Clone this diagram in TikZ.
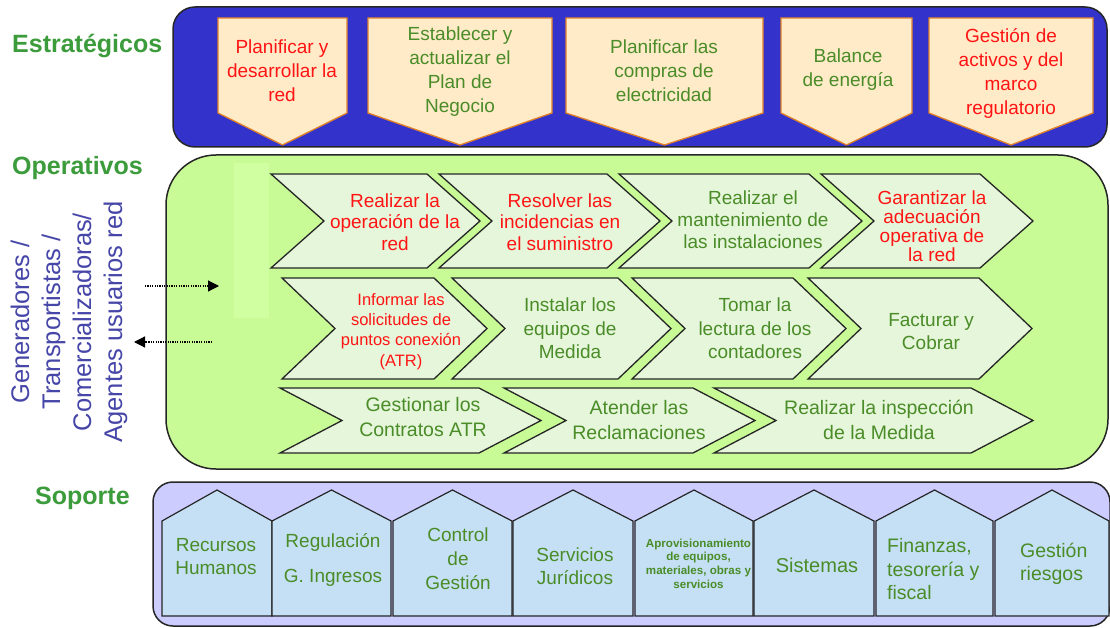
\documentclass[tikz,border=0pt]{standalone}
\usepackage{fontspec}
\setmainfont{Liberation Sans}
\usetikzlibrary{arrows.meta}
\definecolor{bluebox}{RGB}{51,51,204}
\definecolor{peach}{RGB}{255,235,200}
\definecolor{peachline}{RGB}{224,128,40}
\definecolor{greenbg}{RGB}{200,250,150}
\definecolor{greenfaint}{RGB}{208,255,162}
\definecolor{chevfill}{RGB}{230,246,218}
\definecolor{lavender}{RGB}{204,204,255}
\definecolor{housefill}{RGB}{197,224,245}
\definecolor{txtgreen}{RGB}{74,140,40}
\definecolor{lblgreen}{RGB}{60,156,60}
\definecolor{txtred}{RGB}{255,20,20}
\definecolor{txtblue}{RGB}{70,70,168}
\newcommand\fsz[2]{\fontsize{#1}{#2}\selectfont}
\newcommand\stratpath[2]{\draw[stratshape] (#1,18) -- (#2,18) -- (#2,113) -- ({(#1+#2)/2},145) -- (#1,113) -- cycle;}
\newcommand\chevpath[5]{\draw[chevshape] (#1,#3) -- (#2,#3) -- ({#2+#5},{(#3+#4)/2}) -- (#2,#4) -- (#1,#4) -- ({#1+#5},{(#3+#4)/2}) -- cycle;}
\newcommand\housepath[2]{\draw[houseshape] (#1,616) -- (#1,521) -- ({(#1+#2)/2},490) -- (#2,521) -- (#2,616) -- cycle;}
\begin{document}
\begin{tikzpicture}[x=1pt,y=-1pt,
  panel/.style={draw=black!85, line width=1.5pt},
  stratshape/.style={fill=peach, draw=peachline, line width=1.3pt, line join=miter},
  chevshape/.style={fill=chevfill, draw=black!85, line width=1.3pt, line join=miter},
  houseshape/.style={fill=housefill, draw=black!85, line width=1.2pt, line join=miter},
  lbl/.style={font=\bfseries\fsz{25}{30}, text=lblgreen, anchor=base west, inner sep=0pt},
  txt/.style={align=center, inner sep=0pt, font=\fsz{19}{24}},
  tred/.style={text=txtred},
  tgreen/.style={text=txtgreen},
  dotarrow/.style={draw=black, line width=1.2pt, dash pattern=on 1.2pt off 1.2pt, -{Triangle[length=11pt,width=11pt]}}
]
\useasboundingbox (0,0) rectangle (1110,628);
\fill[white] (0,0) rectangle (1110,628);

% ---------- Estrategicos ----------
\node[lbl] (lblest) at (12,53) {Estratégicos};
\draw[panel, fill=bluebox, rounded corners=22pt] (173,7) rectangle (1107,147);
\stratpath{218}{347}
\stratpath{368}{552}
\stratpath{566}{763}
\stratpath{781}{912}
\stratpath{929}{1093}
\node[txt,tred] (s1) at (282,71) {Planificar y\\desarrollar la\\red};
\node[txt,tgreen] (s2) at (460,71.5) {Establecer y\\actualizar el\\Plan de\\Negocio};
\node[txt,tgreen] (s3) at (664,70.5) {Planificar las\\compras de\\electricidad};
\node[txt,tgreen] (s4) at (848,70) {Balance\\de energía};
\node[txt,tred] (s5) at (1011,73) {Gestión de\\activos y del\\marco\\regulatorio};

% ---------- Operativos ----------
\node[lbl] (lblop) at (12,175) {Operativos};
\draw[panel, fill=greenbg, rounded corners=50pt] (166,155) rectangle (1108,469);
\fill[greenfaint] (234,163) rectangle (269,318);

\chevpath{271}{427}{174}{268}{53}
\chevpath{439}{607}{174}{268}{53}
\chevpath{619}{809}{174}{268}{53}
\chevpath{821}{980}{174}{268}{53}

\chevpath{282}{434}{278}{379}{53}
\chevpath{452}{618}{278}{379}{53}
\chevpath{632}{793}{278}{379}{53}
\chevpath{808}{979}{278}{379}{53}

\chevpath{280}{479}{388}{453}{62}
\chevpath{504}{693}{388}{453}{62}
\chevpath{714}{971}{388}{453}{62}

\node[txt,tred,font=\fsz{19}{21.5}] (c1) at (395,222) {Realizar la\\operación de la\\red};
\node[txt,tred,font=\fsz{19}{21.5}] (c2) at (560,222) {Resolver las\\incidencias en\\el suministro};
\node[txt,tgreen,font=\fsz{19}{22}] (c3) at (753,219.5) {Realizar el\\mantenimiento de\\las instalaciones};
\node[txt,tred,font=\fsz{19}{19}] (c4) at (932,226.5) {Garantizar la\\adecuación\\operativa de\\la red};

\node[txt,tred,font=\fsz{16.5}{20.3}] (c5) at (401,331.5) {Informar las\\solicitudes de\\puntos conexión\\(ATR)};
\node[txt,tgreen,font=\fsz{19}{23.5}] (c6) at (570,328.5) {Instalar los\\equipos de\\Medida};
\node[txt,tgreen,font=\fsz{19}{23.5}] (c7) at (755,328.5) {Tomar la\\lectura de los\\contadores};
\node[txt,tgreen,font=\fsz{19}{23.5}] (c8) at (931,331.5) {Facturar y\\Cobrar};

\node[txt,tgreen,font=\fsz{19.5}{25}] (c9) at (423,417.5) {Gestionar los\\Contratos ATR};
\node[txt,tgreen,font=\fsz{19.5}{24.5}] (c10) at (639,420) {Atender las\\Reclamaciones};
\node[txt,tgreen,font=\fsz{19.5}{24.5}] (c11) at (879,420) {Realizar la inspección\\de la Medida};

% side agents text and arrows
\node[rotate=90, align=center, inner sep=0pt, text=txtblue, font=\fsz{25.5}{31}] (agents) at (69,322) {Generadores /\\Transportistas /\\Comercializadoras/\\Agentes usuarios red};
\coordinate (a1s) at (145,286);
\coordinate (a1e) at (219,286);
\coordinate (a2s) at (212,342);
\coordinate (a2e) at (134,342);
\draw[dotarrow] (a1s) -- (a1e);
\draw[dotarrow] (a2s) -- (a2e);

% ---------- Soporte ----------
\node[lbl] (lblsop) at (35,504) {Soporte};
\draw[panel, fill=lavender, rounded corners=20pt] (153,482) rectangle (1110,626);
\housepath{162}{272}
\housepath{272}{391}
\housepath{393}{512}
\housepath{513}{633}
\housepath{635}{753}
\housepath{754}{874}
\housepath{876}{993}
\housepath{995}{1109}

\node[txt,tgreen,font=\fsz{19}{23}] (h1) at (216,556.5) {Recursos\\Humanos};
\node[txt,tgreen,font=\fsz{19}{35}] (h2) at (333,559.5) {Regulación\\G. Ingresos};
\node[txt,tgreen,font=\fsz{19}{24}] (h3) at (458,559) {Control\\de\\Gestión};
\node[txt,tgreen,font=\fsz{19}{23}] (h4) at (575,566.5) {Servicios\\Jurídicos};
\node[txt,tgreen,font=\bfseries\fsz{11.6}{13.7}] (h5) at (698.5,563.5) {Aprovisionamiento\\de equipos,\\materiales, obras y\\servicios};
\node[txt,tgreen,font=\fsz{20}{24}] (h6) at (817,565) {Sistemas};
\node[txt,tgreen,align=left,anchor=west,font=\fsz{19.5}{23.5}] (h7) at (887,569.5) {Finanzas,\\tesorería y\\fiscal};
\node[txt,tgreen,align=left,anchor=west,font=\fsz{19.5}{23}] (h8) at (1020,563.5) {Gestión\\riesgos};
\end{tikzpicture}
\end{document}
